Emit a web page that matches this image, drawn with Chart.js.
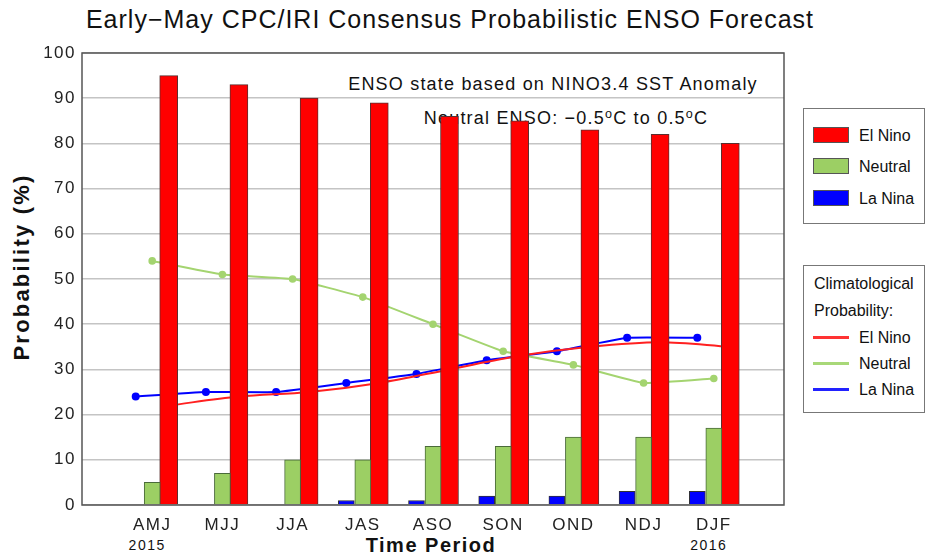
<!DOCTYPE html>
<html>
<head>
<meta charset="utf-8">
<script src="https://cdn.jsdelivr.net/npm/chart.js@4"></script>
<style>
html,body{margin:0;padding:0;background:#fff;}
#wrap{position:relative;width:927px;height:556px;overflow:hidden;font-family:"Liberation Sans",Arial,Helvetica,sans-serif;color:#111;}
#c{position:absolute;left:0;top:0;z-index:1;}
.t{position:absolute;white-space:nowrap;line-height:1;}
.ctr{text-align:center;width:800px;}
.box{position:absolute;border:1px solid #777;background:#fff;z-index:2;}
.sw{position:absolute;width:34px;height:14px;border:1px solid #555;}
.ln{position:absolute;width:36px;height:0;border-top:3px solid;}
.lt{position:absolute;font-size:16px;line-height:1;white-space:nowrap;}
sup{font-size:0.7em;vertical-align:0;position:relative;top:-0.5em;}
</style>
</head>
<body>
<div id="wrap">
  <div class="t ctr" id="title" style="left:50px;top:7px;font-size:25px;letter-spacing:1px;">Early−May CPC/IRI Consensus Probabilistic ENSO Forecast</div>
  <div class="t ctr" style="left:153px;top:75px;font-size:18px;letter-spacing:1.2px;z-index:0;">ENSO state based on NINO3.4 SST Anomaly</div>
  <div class="t ctr" style="left:166px;top:109px;font-size:18px;letter-spacing:1.2px;z-index:0;">Neutral ENSO: −0.5<sup>o</sup>C to 0.5<sup>o</sup>C</div>
  <div class="t" style="left:22px;top:267px;font-size:22px;font-weight:bold;letter-spacing:2.2px;transform:translate(-50%,-50%) rotate(-90deg);">Probability (%)</div>
  <div class="t ctr" style="left:31px;top:535px;font-size:20px;font-weight:bold;letter-spacing:1.5px;">Time Period</div>
  <div id="years"></div>
  <canvas id="c" width="927" height="556"></canvas>
  <div class="box" style="left:803px;top:108px;width:120px;height:114px;">
    <div class="sw" style="left:9px;top:18px;background:#ff0000;"></div>
    <div class="lt" style="left:55px;top:19px;">El Nino</div>
    <div class="sw" style="left:9px;top:49px;background:#9ccf64;"></div>
    <div class="lt" style="left:55px;top:50px;">Neutral</div>
    <div class="sw" style="left:9px;top:81px;background:#0000ff;"></div>
    <div class="lt" style="left:55px;top:82px;">La Nina</div>
  </div>
  <div class="box" style="left:803px;top:265px;width:120px;height:146px;">
    <div class="lt" style="left:10px;top:10px;">Climatological</div>
    <div class="lt" style="left:10px;top:37px;">Probability:</div>
    <div class="ln" style="left:9px;top:70px;border-color:#ff3333;"></div>
    <div class="lt" style="left:55px;top:64px;">El Nino</div>
    <div class="ln" style="left:9px;top:96px;border-color:#a8d878;"></div>
    <div class="lt" style="left:55px;top:90px;">Neutral</div>
    <div class="ln" style="left:9px;top:122px;border-color:#2222ff;"></div>
    <div class="lt" style="left:55px;top:116px;">La Nina</div>
  </div>
</div>
<script>
const categories = ['AMJ','MJJ','JJA','JAS','ASO','SON','OND','NDJ','DJF'];
const yearLabels = ['2015','','','','','','','','2016'];
const elNino  = [95, 93, 90, 89, 86, 85, 83, 82, 80];
const neutral = [5, 7, 10, 10, 13, 13, 15, 15, 17];
const laNina  = [0, 0, 0, 1, 1, 2, 2, 3, 3];
const climElNino  = [22, 24, 25, 27, 30, 33, 35, 36, 35];
const climNeutral = [54, 51, 50, 46, 40, 34, 31, 27, 28];
const climLaNina  = [24, 25, 25, 27, 29, 32, 34, 37, 37];
const yTickStep = 10;

// position of each series inside a category group (style)
const OFF = {laNina: -0.235, neutral: 0, elNino: 0.235};
const pts = (arr, off) => arr.map((v, i) => ({x: i + 1 + off, y: v}));

const LS = '1.5px';
const spacing = {
  id: 'spacing',
  beforeLayout(c){ c.ctx.letterSpacing = LS; },
  beforeDraw(c){ c.ctx.letterSpacing = LS; }
};
const frame = {
  id: 'frame',
  afterDraw(c){
    const {ctx, chartArea:a} = c;
    ctx.save();
    ctx.strokeStyle = '#555';
    ctx.lineWidth = 1.5;
    ctx.strokeRect(a.left, a.top, a.right - a.left, a.bottom - a.top);
    ctx.restore();
  }
};

const font = {family: '"Liberation Sans", Arial, sans-serif', size: 17};
const chart = new Chart(document.getElementById('c'), {
  type: 'bar',
  data: {
    datasets: [
      {type:'bar', label:'La Nina', data: pts(laNina, OFF.laNina), backgroundColor:'#0000ff', borderColor:'#333', borderWidth:1, barThickness:16, grouped:false, order:0},
      {type:'bar', label:'Neutral', data: pts(neutral, OFF.neutral), backgroundColor:'#9ccf64', borderColor:'#4a6a3a', borderWidth:1, barThickness:16, grouped:false, order:0},
      {type:'bar', label:'El Nino', data: pts(elNino, OFF.elNino), backgroundColor:'#ff0000', borderColor:'#5a3030', borderWidth:1, barThickness:18, grouped:false, order:0},
      {type:'line', label:'Clim El Nino', data: pts(climElNino, OFF.elNino), borderColor:'#ff2020', backgroundColor:'#ff2020', borderWidth:2, pointRadius:3, cubicInterpolationMode:'monotone', order:1},
      {type:'line', label:'Clim Neutral', data: pts(climNeutral, OFF.neutral), borderColor:'#a4d470', backgroundColor:'#a4d470', borderWidth:2, pointRadius:2.8, tension:0.1, order:1},
      {type:'line', label:'Clim La Nina', data: pts(climLaNina, OFF.laNina), borderColor:'#0000ff', backgroundColor:'#0000ff', borderWidth:2, pointRadius:3, tension:0.1, order:1}
    ]
  },
  options: {
    responsive: false,
    animation: false,
    events: [],
    layout: {padding: {left: 0, top: 53, right: 143, bottom: 0}},
    plugins: {legend: {display: false}, tooltip: {enabled: false}, title: {display: false}},
    scales: {
      x: {
        type: 'linear', min: 0, max: categories.length + 1, offset: false,
        afterFit(s){ s.height = 51; },
        grid: {display: false, drawTicks: false, offset: false},
        border: {display: false},
        ticks: {
          stepSize: 1, autoSkip: false, maxRotation: 0, color: '#222', font, padding: 10,
          callback: v => (v >= 1 && v <= categories.length) ? categories[v - 1] : ''
        }
      },
      y: {
        min: 0, max: 100,
        afterFit(s){ s.width = 82; },
        grid: {color: '#c4c4c4', lineWidth: 1.5, drawTicks: false},
        border: {display: false},
        ticks: {stepSize: yTickStep, color: '#222', font, padding: 6}
      }
    }
  },
  plugins: [spacing, frame]
});

// year captions under the first and last categories, placed with the x scale
const yr = document.getElementById('years');
yearLabels.forEach((t, i) => {
  if (!t) return;
  const d = document.createElement('div');
  d.className = 't';
  d.textContent = t;
  d.style.cssText = 'font-size:14px;letter-spacing:1.5px;top:538px;transform:translateX(calc(-50% - 5px));';
  d.style.left = chart.scales.x.getPixelForValue(i + 1) + 'px';
  yr.appendChild(d);
});
</script>
</body>
</html>
